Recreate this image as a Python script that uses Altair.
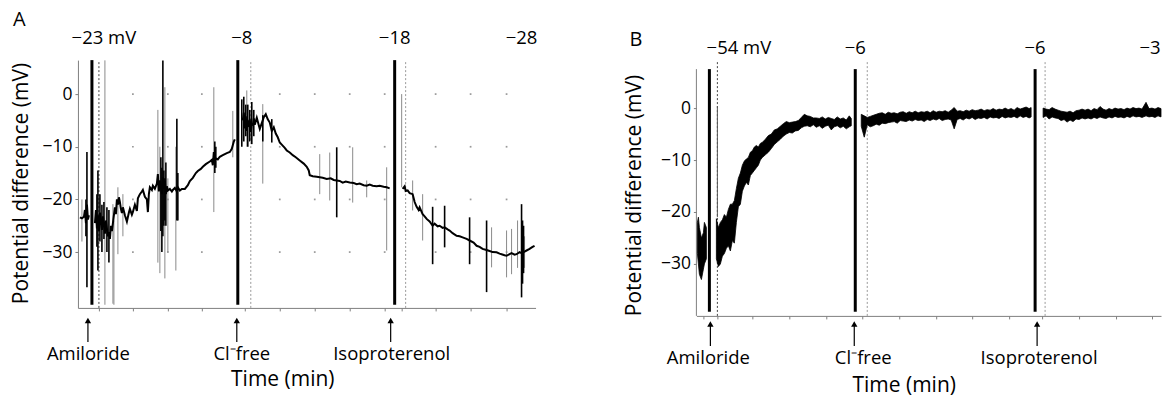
import altair as alt
import pandas as pd

FONT = "Open Sans"
AXIS_GREY = "#808080"
SPIKE_GREY = "#8a8a8a"
DOT_GREY = "#9a9a9a"

# ======================= Panel A data =======================
a_t = [2, 4, 6, 7, 8, 9, 10, 11,
       17, 18, 19, 20, 21, 22, 23, 24, 25, 26,
       27, 28, 29, 30, 31, 32, 33, 34, 35, 36,
       37, 38, 39, 40, 41, 42, 43, 44, 45, 47,
       49, 51, 52, 54, 55, 57, 59, 60, 62, 64,
       65, 67, 69, 70, 71, 72, 74, 75, 77, 79,
       80, 81, 82, 84, 85, 86, 87, 88, 89, 90,
       92, 94, 95, 97, 99, 100, 102, 104, 107, 110,
       112, 115, 118, 120, 123, 125, 128, 132, 134, 135,
       136, 137, 138, 140, 142, 145, 149, 152, 154, 156, 157,
       165, 166, 167, 168, 169, 170, 171, 172, 173, 174,
       175, 176, 177, 179, 181, 182, 184, 186, 188, 190,
       192, 194, 196, 198, 200, 202, 204, 207, 209, 212,
       215, 218, 222, 226, 229, 231, 232, 235, 239, 242,
       245, 249, 253, 256, 259, 262, 265, 268, 272, 276,
       279, 282, 286, 289, 292, 295, 299, 302, 306, 309, 312,
       325, 327, 328, 330, 332, 335, 337, 339, 341, 342,
       345, 347, 349, 352, 355, 357, 360, 362, 365, 367,
       370, 372, 375, 379, 382, 385, 389, 392, 396, 399,
       402, 405, 409, 412, 415, 419, 422, 424, 427, 429,
       432, 434, 437, 439, 442, 444, 447, 449, 452, 455, 457]
a_v = [-23.4, -23.6, -23.3, -22.0, -24.5, -21.0, -23.8, -23.0,
       -24.5, -22.0, -25.5, -23.0, -26.0, -22.5, -24.0, -25.8, -23.2, -24.6,
       -26.5, -24.0, -25.5, -27.0, -26.2, -27.5, -25.0, -26.0, -24.5, -23.0,
       -21.5, -22.8, -20.0, -21.0, -19.6, -20.5, -21.8, -22.6, -21.5, -23.0,
       -24.2, -22.5, -21.8, -22.9, -22.4, -21.0, -22.2, -19.8, -19.0, -18.5,
       -18.2, -19.5, -20.0, -22.4, -19.0, -17.7, -18.2, -17.4, -18.0, -17.0,
       -15.2, -18.5, -16.4, -19.0, -15.8, -18.0, -16.5, -19.0, -17.5, -18.3,
       -18.0, -18.5, -18.2, -17.8, -18.5, -17.7, -18.3, -18.0, -18.0, -17.3,
       -16.5, -15.9, -15.0, -14.6, -14.2, -13.8, -13.3, -12.8, -12.5, -13.5,
       -11.0, -12.7, -12.2, -12.4, -11.9, -11.6, -11.2, -11.0, -10.4, -9.0, -8.6,
       -5.0, -3.5, -6.5, -4.2, -7.0, -5.0, -6.2, -4.8, -7.2, -5.5,
       -6.0, -4.6, -5.8, -4.5, -5.9, -6.6, -5.5, -4.4, -3.8, -4.8,
       -5.4, -7.0, -6.3, -7.5, -8.2, -9.2, -9.6, -10.2, -10.7, -11.1,
       -11.6, -12.0, -12.6, -13.2, -13.8, -14.5, -15.4, -15.6, -15.7, -15.8,
       -15.9, -16.1, -16.0, -16.3, -16.4, -16.5, -16.8, -16.6, -16.8, -16.9,
       -17.1, -17.0, -17.3, -17.4, -17.2, -17.4, -17.5, -17.4, -17.6, -17.7, -17.9,
       -18.0, -17.5, -18.4, -18.3, -18.8, -19.0, -20.5, -21.4, -22.0, -21.5,
       -22.8, -23.2, -23.7, -24.2, -25.0, -24.6, -25.1, -25.0, -25.4, -25.3,
       -25.7, -25.9, -26.4, -26.9, -27.0, -27.2, -27.5, -27.8, -28.2, -28.8,
       -29.0, -29.4, -29.6, -29.8, -30.0, -30.05, -30.3, -30.4, -30.6, -30.7,
       -30.4, -30.2, -30.5, -30.4, -30.0, -30.2, -29.9, -29.7, -29.4, -29.0, -28.8]

a_bars = [14, 160, 317]          # solution changes (thick bars)
a_dots = [21, 173, 328]          # dotted markers

a_dark_t = [8, 9, 19, 20, 22, 24, 26, 29, 31, 83, 84, 85, 86, 87, 88, 99, 100,
            137, 138, 164, 166, 168, 170, 172, 174, 176, 185, 194, 259,
            355, 367, 392, 409, 444, 445, 446]
a_dark_lo = [-27.0, -36.7, -29.0, -33.5, -28.0, -30.0, -27.5, -30.0, -32.0, -26.0, -30.0, -27.0, -25.0, -24.0, -25.0, -24.0, -24.0,
             -15.0, -14.0, -10.0, -9.0, -8.0, -10.0, -9.0, -9.5, -8.0, -9.0, -9.2, -23.4,
             -32.3, -29.1, -32.3, -37.6, -38.6, -36.0, -34.0]
a_dark_hi = [-20.0, -11.0, -19.0, -14.5, -19.0, -21.0, -20.5, -21.5, -22.0, -12.0, -14.0, 6.4, -14.5, -16.0, -13.0, -4.7, -15.0,
             -9.0, -10.0, -1.0, -0.5, -2.0, -2.0, -3.0, -1.5, -3.0, -4.0, -4.75, -10.1,
             -21.4, -21.2, -23.4, -24.0, -20.9, -24.0, -25.0]

a_grey_t = [4, 27, 35, 36, 40, 45, 80, 82, 87, 90, 98, 136, 155, 169, 185, 242, 252,
            275, 289, 309, 324, 335, 345, 414, 429, 434, 440, 447]
a_grey_lo = [-28.0, -40.0, -39.8, -40.0, -30.4, -27.0, -32.0, -34.0, -35.0, -30.0, -33.5, -22.4, -12.0, -10.0, -17.0, -19.0, -20.2,
             -20.6, -19.6, -29.7, -17.7, -22.1, -27.8, -32.9, -34.8, -34.2, -33.0, -33.0]
a_grey_hi = [-20.0, 6.4, -20.9, -24.0, -17.7, -19.0, -3.0, -10.0, 1.3, -16.0, -10.0, 1.3, -3.2, 0.7, -1.9, -11.4, -11.1,
             -10.1, -16.4, -13.9, 0.0, -16.4, -19.0, -25.3, -25.9, -25.6, -24.0, -27.0]

a_xticks = [21, 55, 90, 124, 167, 202, 237, 272, 307, 324, 358, 393, 429]
a_grid_x = [55, 90, 124, 202, 237, 272, 307, 358, 393, 429]
y_ticks = [0, -10, -20, -30]

a_top_t = [26, 164, 317, 444]
a_top_txt = ["\u221223 mV", "\u22128", "\u221218", "\u221228"]
a_ev_t = [10.5, 164, 314]
a_arrow_t = [10, 159, 313]
ev_txt = ["Amiloride", "Cl\u207bfree", "Isoproterenol"]

# ======================= Panel B data =======================
b_t = [1, 2, 3, 5, 7, 8, 10,
       20, 22, 24, 26, 28, 30, 32, 34, 36, 38,
       40, 42, 44, 46, 48, 50, 52, 54, 56, 58,
       60, 62, 64, 66, 69, 72, 75, 78, 81, 84,
       87, 90, 93, 96, 99, 102, 105, 108, 111, 114,
       117, 120, 123, 126, 129, 132, 135, 138, 141, 144,
       147, 150, 153, 155,
       165, 168, 171, 174, 177, 180, 183, 186, 189, 192,
       195, 198, 201, 204, 207, 210, 213, 216, 219, 222,
       225, 228, 231, 234, 237, 240, 243, 246, 249, 252,
       255, 258, 261, 264, 267, 270, 273, 276, 279, 282,
       285, 288, 291, 294, 297, 300, 303, 306, 309, 312,
       315, 318, 321, 324, 327, 330, 333, 335,
       347, 350, 353, 356, 359, 362, 365, 368, 371, 374,
       377, 380, 383, 386, 389, 392, 395, 398, 401, 404,
       407, 410, 413, 416, 419, 422, 425, 428, 431, 434,
       437, 440, 443, 446, 450, 453, 456, 459, 462, 465]
b_lo = [-28, -30, -32, -33, -31, -30, -29,
        -29.0, -30.5, -30.0, -28.5, -28.0, -27.0, -26.5, -27.5, -25.5, -26.0,
        -22.0, -19.0, -18.5, -16.0, -15.0, -14.3, -14.8, -13.0, -12.5, -12.0,
        -11.5, -11.0, -10.0, -9.5, -9.0, -8.5, -7.8, -7.0, -6.5, -6.0,
        -5.4, -5.0, -4.7, -4.8, -4.4, -4.3, -3.8, -3.5, -3.4, -3.6,
        -3.2, -3.7, -3.4, -3.9, -3.5, -3.3, -4.2, -3.6, -3.4, -3.8,
        -3.5, -4.0, -3.6, -3.4,
        -3.5, -5.6, -3.2, -3.6, -3.4, -3.1, -3.3, -2.9, -3.0, -2.8,
        -2.7, -2.6, -2.9, -2.4, -2.5, -2.6, -2.3, -2.5, -2.2, -2.4,
        -2.3, -2.6, -2.2, -2.4, -2.1, -2.3, -2.0, -2.4, -2.2, -2.1,
        -2.3, -4.0, -2.2, -2.0, -2.3, -1.9, -2.1, -1.8, -2.2, -1.9,
        -2.0, -1.8, -2.1, -1.7, -1.9, -1.8, -2.0, -1.6, -1.9, -1.7,
        -1.8, -1.6, -1.9, -1.5, -1.8, -1.6, -1.9, -1.7,
        -1.8, -1.5, -2.1, -1.7, -1.9, -2.0, -2.4, -2.2, -2.7, -2.3,
        -2.6, -2.1, -2.2, -1.9, -2.1, -1.9, -2.1, -1.8, -2.0, -1.7,
        -1.9, -2.0, -1.7, -1.9, -1.6, -1.8, -1.7, -1.9, -1.6, -1.8,
        -1.5, -1.7, -1.6, -1.8, -1.5, -1.7, -1.6, -1.8, -1.5, -1.7]
b_hi = [-22, -21, -23, -25, -24, -22, -23,
        -21.3, -23.0, -22.0, -21.5, -20.5, -21.0, -19.5, -18.5, -18.5, -17.8,
        -15.5, -13.5, -12.5, -11.0, -10.2, -9.8, -9.5, -8.5, -8.2, -7.5,
        -7.2, -7.5, -6.8, -6.6, -6.0, -5.3, -5.0, -4.2, -4.0, -3.5,
        -3.0, -2.6, -2.8, -2.7, -2.6, -2.4, -1.8, -1.2, -1.5, -1.6,
        -1.9, -1.9, -2.0, -1.7, -2.1, -1.8, -2.0, -2.2, -1.7, -2.1,
        -1.9, -2.3, -1.5, -2.0,
        -1.2, -1.5, -1.8, -1.6, -1.4, -1.2, -1.0, -0.9, -1.2, -0.8,
        -1.0, -0.9, -1.1, -0.8, -0.7, -1.0, -0.7, -0.9, -0.6, -0.9,
        -0.7, -0.8, -0.6, -0.9, -0.5, -0.8, -0.6, -0.7, -0.5, -0.8,
        -0.4, 0.1, -0.6, -0.5, -0.7, -0.4, -0.6, -0.3, -0.5, -0.4,
        -0.2, -0.5, -0.3, -0.4, -0.1, -0.4, -0.2, -0.3, 0.0, -0.3,
        -0.1, -0.4, 0.1, -0.2, 0.0, 0.2, -0.1, 0.1,
        0.0, -0.2, -0.3, 0.1, -0.2, -0.4, -0.6, -0.7, -0.8, -0.6,
        -0.9, -0.5, -0.4, -0.2, -0.4, -0.2, -0.5, -0.1, -0.3, 0.3,
        -0.2, -0.4, -0.1, -0.3, 0.0, -0.2, -0.1, -0.3, 0.0, -0.2,
        0.1, -0.1, 0.0, -0.2, 1.1, -0.1, 0.0, -0.2, 0.1, -0.1]

b_bars = [13, 159, 339]
b_dots = [21, 171, 349]
b_xticks = [7, 21, 56, 93, 130, 166, 203, 240, 276, 313, 346, 383, 420, 456]
b_top_t = [42.5, 159, 339, 454]
b_top_txt = ["\u221254 mV", "\u22126", "\u22126", "\u22123"]
b_ev_t = [12, 167, 343]
b_arrow_t = [14, 158, 341]

assert len(a_t) == len(a_v)
assert len(a_dark_t) == len(a_dark_lo) == len(a_dark_hi)
assert len(a_grey_t) == len(a_grey_lo) == len(a_grey_hi)
assert len(b_t) == len(b_lo) == len(b_hi)


def seg_of(t, breaks):
    return sum(1 for b in breaks if t > b)


def build_panel(xdom, ydom, width, height, line_layers, bars, dots, bar_lo, bar_hi,
                xticks, grid_x, top_t, top_txt, top_y, ev_t, ev_y, arrow_t, head_y, shaft_y2,
                letter, letter_x, letter_y, ytitle_x, ytitle_y, xtitle_t, xtitle_y,
                ydomain_line, anchor):
    XS = alt.Scale(domain=xdom, nice=False, zero=False)
    YS = alt.Scale(domain=ydom, nice=False, zero=False)
    AX = alt.Axis(values=xticks, labels=False, title=None, grid=False, tickSize=3,
                  domainColor=AXIS_GREY, tickColor=AXIS_GREY)
    AY = alt.Axis(values=y_ticks, title=None, grid=False, tickSize=3, labelPadding=3,
                  domain=not ydomain_line, domainColor=AXIS_GREY, tickColor=AXIS_GREY,
                  labelFont=FONT, labelFontSize=17.5, labelColor="black")

    def X(f):
        return alt.X(f + ":Q", scale=XS, axis=AX)

    def Y(f):
        return alt.Y(f + ":Q", scale=YS, axis=AY)

    layers = []
    if ydomain_line:
        ax = pd.DataFrame({"t": [0], "lo": [ydom[0]], "hi": [ydomain_line]})
        layers.append(alt.Chart(ax).mark_rule(color=AXIS_GREY, strokeWidth=1).encode(
            x=X("t"), y=Y("lo"), y2="hi:Q"))
    if grid_x:
        g = pd.DataFrame([(gx, gy) for gx in grid_x for gy in y_ticks], columns=["t", "lo"])
        layers.append(alt.Chart(g).mark_square(size=3, color=DOT_GREY, opacity=1).encode(x=X("t"), y=Y("lo")))
    # dotted markers
    dd = pd.DataFrame({"t": dots, "lo": [ydom[0]] * len(dots), "hi": [ydom[1]] * len(dots),
                       "k": ["first"] + ["other"] * (len(dots) - 1)})
    layers.append(alt.Chart(dd).mark_rule(strokeDash=[2, 2], strokeWidth=1).encode(
        x=X("t"), y=Y("lo"), y2="hi:Q",
        color=alt.Color("k:N", scale=alt.Scale(domain=["first", "other"], range=["#444444", "#9a9a9a"]), legend=None)))
    layers.extend(line_layers(X, Y))
    # thick bars
    bd = pd.DataFrame({"t": bars, "lo": [bar_lo] * len(bars), "hi": [bar_hi] * len(bars)})
    layers.append(alt.Chart(bd).mark_rule(color="black", strokeWidth=3).encode(x=X("t"), y=Y("lo"), y2="hi:Q"))
    # arrows
    ad = pd.DataFrame({"t": arrow_t})
    layers.append(alt.Chart(ad).mark_rule(color="black", strokeWidth=1.2).encode(
        x=X("t"), y=alt.value(head_y), y2=alt.value(shaft_y2)))
    layers.append(alt.Chart(ad).mark_point(shape="triangle-up", filled=True, size=40, color="black", opacity=1).encode(
        x=X("t"), y=alt.value(head_y)))
    # top labels
    td = pd.DataFrame({"t": top_t, "txt": top_txt})
    layers.append(alt.Chart(td).mark_text(font=FONT, fontSize=18.5, color="black", align="center",
                                          baseline="alphabetic").encode(x=X("t"), y=alt.value(top_y), text="txt:N"))
    # event labels
    ed = pd.DataFrame({"t": ev_t, "txt": ev_txt})
    layers.append(alt.Chart(ed).mark_text(font=FONT, fontSize=18.5, color="black", align="center",
                                          baseline="alphabetic").encode(x=X("t"), y=alt.value(ev_y), text="txt:N"))
    # x title
    xt = pd.DataFrame({"t": [xtitle_t], "txt": ["Time (min)"]})
    layers.append(alt.Chart(xt).mark_text(font=FONT, fontSize=21, color="black", align="center",
                                          baseline="alphabetic").encode(x=X("t"), y=alt.value(xtitle_y), text="txt:N"))
    # y title
    yt = pd.DataFrame({"txt": ["Potential difference (mV)"]})
    layers.append(alt.Chart(yt).mark_text(font=FONT, fontSize=21, color="black", align="center", angle=270,
                                          baseline="middle").encode(x=alt.value(ytitle_x), y=alt.value(ytitle_y),
                                                                    text="txt:N"))
    # panel letter
    ld = pd.DataFrame({"txt": [letter]})
    layers.append(alt.Chart(ld).mark_text(font=FONT, fontSize=20, color="black", align="left",
                                          baseline="alphabetic").encode(x=alt.value(letter_x), y=alt.value(letter_y),
                                                                        text="txt:N"))
    if anchor:
        an = pd.DataFrame({"k": [0]})
        layers.append(alt.Chart(an).mark_rule(strokeOpacity=0, strokeWidth=1).encode(
            x=alt.value(anchor[0]), x2=alt.value(anchor[0] + 1), y=alt.value(anchor[1]), y2=alt.value(anchor[1])))
    return alt.layer(*layers).properties(width=width, height=height)


# ---------- Panel A trace layers ----------
dfA = pd.DataFrame({"t": a_t, "lo": a_v})
dfA["seg"] = [seg_of(t, a_bars) for t in a_t]
dfA_dark = pd.DataFrame({"t": a_dark_t, "lo": a_dark_lo, "hi": a_dark_hi})
dfA_grey = pd.DataFrame({"t": a_grey_t, "lo": a_grey_lo, "hi": a_grey_hi})


def a_layers(X, Y):
    return [
        alt.Chart(dfA_grey).mark_rule(color=SPIKE_GREY, strokeWidth=1).encode(x=X("t"), y=Y("lo"), y2="hi:Q"),
        alt.Chart(dfA_dark).mark_rule(color="black", strokeWidth=1.6).encode(x=X("t"), y=Y("lo"), y2="hi:Q"),
        alt.Chart(dfA).mark_line(color="black", strokeWidth=2).encode(x=X("t"), y=Y("lo"), detail="seg:N"),
    ]


dfB = pd.DataFrame({"t": b_t, "lo": b_lo, "hi": b_hi})
dfB["seg"] = [seg_of(t, b_bars) for t in b_t]


def b_layers(X, Y):
    return [
        alt.Chart(dfB).mark_area(color="black", opacity=1, stroke="black", strokeWidth=0.8).encode(
            x=X("t"), y=Y("lo"), y2="hi:Q", detail="seg:N"),
        alt.Chart(pd.DataFrame({"t": [21], "lo": [-21.0], "hi": [0.4]})).mark_rule(color="#555555", strokeWidth=1).encode(
            x=X("t"), y=Y("lo"), y2="hi:Q"),
    ]


panelA = build_panel(
    xdom=[0, 458], ydom=[-40.6, 6.45], width=458, height=248, line_layers=a_layers,
    bars=a_bars, dots=a_dots, bar_lo=-40.0, bar_hi=6.45,
    xticks=a_xticks, grid_x=a_grid_x, top_t=a_top_t, top_txt=a_top_txt, top_y=-16,
    ev_t=a_ev_t, ev_y=300, arrow_t=a_arrow_t, head_y=260.5, shaft_y2=282,
    letter="A", letter_x=-65, letter_y=-34, ytitle_x=-56, ytitle_y=123.5,
    xtitle_t=205, xtitle_y=326, ydomain_line=None, anchor=(-65.5, -48.5))

panelB = build_panel(
    xdom=[0, 465], ydom=[-40.0, 9.23], width=465, height=256, line_layers=b_layers,
    bars=b_bars, dots=b_dots, bar_lo=-39.2, bar_hi=7.5,
    xticks=b_xticks, grid_x=None, top_t=b_top_t, top_txt=b_top_txt, top_y=-6,
    ev_t=b_ev_t, ev_y=304, arrow_t=b_arrow_t, head_y=264, shaft_y2=286,
    letter="B", letter_x=-67, letter_y=-14, ytitle_x=-61, ytitle_y=135.5,
    xtitle_t=208, xtitle_y=332, ydomain_line=7.5, anchor=None)

chart = alt.hconcat(panelA, panelB, spacing=161, bounds="flush").properties(
    padding={"left": 2, "top": 2, "right": 0, "bottom": 5}).configure_view(
    stroke=None).configure_axis(labelFont=FONT, labelFontSize=17.5, labelColor="black")

chart.save("out.html", embed_options={"renderer": "svg", "actions": False})
